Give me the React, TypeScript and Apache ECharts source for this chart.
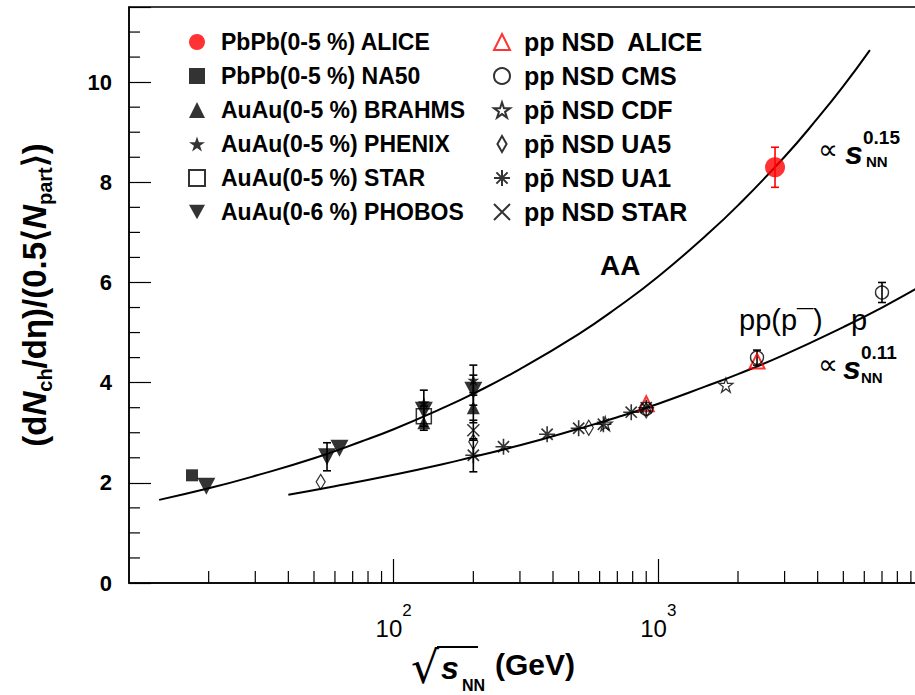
import React, { useEffect, useRef } from 'react';
import * as echarts from 'echarts';

const FONT = '"Liberation Sans", Arial, Helvetica, sans-serif';

// ---- legend / series names ----
const seriesNames = [
  'PbPb(0-5 %) ALICE',
  'PbPb(0-5 %) NA50',
  'AuAu(0-5 %) BRAHMS',
  'AuAu(0-5 %) PHENIX',
  'AuAu(0-5 %) STAR',
  'AuAu(0-6 %) PHOBOS',
  'pp NSD  ALICE',
  'pp NSD CMS',
  'pp\u0304 NSD CDF',
  'pp\u0304 NSD UA5',
  'pp\u0304 NSD UA1',
  'pp NSD STAR',
];

// ---- data: [sqrt(s_NN) GeV, value] ----
const aliceAA = [[2760, 8.3]];
const na50 = [[17.3, 2.15]];
const brahms = [[130, 3.2], [200, 3.5]];
const phenix = [[130, 3.6], [200, 4.05]];
const starAA = [[130, 3.33]];
const phobos = [[19.6, 1.93], [56, 2.52], [62.4, 2.69], [130, 3.45], [200, 3.85]];
const alicePP = [[900, 3.58], [2360, 4.43]];
const cmsPP = [[900, 3.48], [2360, 4.5], [7000, 5.8]];
const cdfPP = [[630, 3.18], [1800, 3.95]];
const ua5PP = [[53, 2.02], [200, 2.82], [546, 3.1], [900, 3.45]];
const ua1PP = [[200, 2.55], [260, 2.72], [380, 2.97], [500, 3.09], [620, 3.17], [790, 3.41], [900, 3.5]];
const starPP = [[200, 3.05]];

// error bars: [x, low, high]
const aliceErr = [[2760, 7.9, 8.7]];
const blackErr = [
  [56, 2.24, 2.8],
  [130, 3.05, 3.85],
  [130, 3.13, 3.53],
  [200, 3.55, 4.15],
  [200, 3.75, 4.35],
  [200, 3.2, 3.8],
  [200, 2.85, 3.25],
  [200, 2.22, 2.88],
  [2360, 4.35, 4.65],
  [7000, 5.6, 6.0],
];

// fitted curves
const aaFitE = [13, 20, 30, 50, 75, 100, 150, 200, 300, 500, 700, 1000, 1500, 2000, 3000, 4000, 5000, 6300];
const aaFitY = [1.66, 1.89, 2.14, 2.49, 2.82, 3.07, 3.47, 3.78, 4.27, 4.97, 5.5, 6.12, 6.92, 7.54, 8.51, 9.28, 9.92, 10.64];
const ppFitE = [40, 60, 100, 150, 200, 300, 500, 700, 1000, 1500, 2000, 3000, 5000, 7000, 10000];
const ppFitY = [1.76, 1.93, 2.16, 2.36, 2.52, 2.75, 3.08, 3.31, 3.58, 3.92, 4.17, 4.56, 5.11, 5.5, 5.95];

// minor tick values
const xMinorTicks = [20, 30, 40, 50, 60, 70, 80, 90, 200, 300, 400, 500, 600, 700, 800, 900, 2000, 3000, 4000, 5000, 6000, 7000, 8000, 9000];
const yMinorTicks = [0.5, 1, 1.5, 2.5, 3, 3.5, 4.5, 5, 5.5, 6.5, 7, 7.5, 8.5, 9, 9.5, 10.5, 11];

const SYM_STAR = 'path://M5,0L6.2,3.6L10,3.6L6.9,5.9L8.1,9.5L5,7.3L1.9,9.5L3.1,5.9L0,3.6L3.8,3.6Z';
const SYM_DOWN = 'path://M0,0L10,0L5,9Z';
const SYM_DIAMOND = 'path://M4,0L8,7L4,14L0,7Z';
const SYM_AST = 'path://M5,0L5,10M0,5L10,5M1.5,1.5L8.5,8.5M8.5,1.5L1.5,8.5';
const SYM_X = 'path://M0,0L10,10M10,0L0,10';

const NONE = 'rgba(0,0,0,0)';

function scatter(name: string, data: number[][], symbol: string, size: any, style: any) {
  return {
    name,
    type: 'scatter',
    data,
    symbol,
    symbolSize: size,
    itemStyle: style,
    z: 4,
    silent: true,
  };
}

function errSeries(data: number[][], color: string) {
  return {
    type: 'custom',
    data,
    z: 3,
    silent: true,
    encode: { x: 0, y: [1, 2] },
    renderItem: (params: any, api: any) => {
      const x = api.value(0);
      const p1 = api.coord([x, api.value(1)]);
      const p2 = api.coord([x, api.value(2)]);
      const c = 4;
      const st = { stroke: color, lineWidth: 1.6 };
      return {
        type: 'group',
        children: [
          { type: 'line', shape: { x1: p1[0], y1: p1[1], x2: p2[0], y2: p2[1] }, style: st },
          { type: 'line', shape: { x1: p1[0] - c, y1: p1[1], x2: p1[0] + c, y2: p1[1] }, style: st },
          { type: 'line', shape: { x1: p2[0] - c, y1: p2[1], x2: p2[0] + c, y2: p2[1] }, style: st },
        ],
      };
    },
  };
}

function txt(text: string, x: number, y: number, font: string) {
  return {
    type: 'text',
    x,
    y,
    silent: true,
    style: { text, font, fill: '#000', align: 'left', verticalAlign: 'middle', textAlign: 'left', textVerticalAlign: 'middle' },
  };
}

export default function App() {
  const ref = useRef<HTMLDivElement>(null);

  useEffect(() => {
    const chart = echarts.init(ref.current!, null, { renderer: 'svg', width: 935, height: 695 });
    const legendText = {
      fontSize: 23,
      fontWeight: 'bold',
      fontFamily: FONT,
      color: '#000',
      lineHeight: 34,
      padding: [0, 0, 0, 11],
    };
    const option: any = {
      animation: false,
      backgroundColor: '#fff',
      grid: {
        left: 129,
        right: 12,
        top: 7,
        bottom: 112,
        show: true,
        borderColor: '#000',
        borderWidth: 1.5,
        backgroundColor: 'transparent',
      },
      legend: [
        {
          orient: 'vertical',
          left: 188,
          top: 25,
          padding: 0,
          itemGap: 0,
          itemWidth: 16,
          itemHeight: 16,
          selectedMode: false,
          data: seriesNames.slice(0, 6),
          textStyle: legendText,
        },
        {
          orient: 'vertical',
          left: 493,
          top: 25,
          padding: 0,
          itemGap: 0,
          itemWidth: 16,
          itemHeight: 16,
          selectedMode: false,
          data: seriesNames.slice(6),
          textStyle: { ...legendText, fontSize: 25, padding: [0, 0, 0, 9] },
        },
      ],
      xAxis: {
        type: 'log',
        logBase: 10,
        min: 10,
        max: 10000,
        splitLine: { show: false },
        axisLine: { lineStyle: { color: '#000', width: 1.5 } },
        axisTick: { inside: true, length: 24, lineStyle: { color: '#000', width: 1.2 } },
        axisLabel: {
          margin: 19,
          showMinLabel: false,
          showMaxLabel: false,
          formatter: (v: number) => `{b|10}{s|${Math.round(Math.log10(v))}}`,
          rich: {
            b: { fontSize: 24, fontFamily: FONT, color: '#000', lineHeight: 38, verticalAlign: 'bottom' },
            s: { fontSize: 17, fontFamily: FONT, color: '#000', lineHeight: 17, verticalAlign: 'top' },
          },
        },
      },
      yAxis: {
        type: 'value',
        min: 0,
        max: 11.5,
        interval: 2,
        splitLine: { show: false },
        axisLine: { lineStyle: { color: '#000', width: 1.5 } },
        axisTick: { inside: true, length: 22, lineStyle: { color: '#000', width: 1.2 } },
        axisLabel: {
          margin: 17,
          fontSize: 22,
          fontWeight: 'bold',
          fontFamily: FONT,
          color: '#000',
          formatter: (v: number) => (v % 2 === 0 ? String(v) : ''),
        },
        name: '{p|(d}{i|N}{sub|ch}{p|/dη)/(0.5⟨}{i|N}{sub|part}{p|⟩)}',
        nameLocation: 'middle',
        nameRotate: 90,
        nameGap: 74,
        nameTextStyle: {
          rich: {
            p: { fontSize: 33, fontWeight: 'bold', fontFamily: FONT, color: '#000', lineHeight: 42 },
            i: { fontSize: 33, fontWeight: 'bold', fontStyle: 'italic', fontFamily: FONT, color: '#000', lineHeight: 42 },
            sub: { fontSize: 20, fontWeight: 'bold', fontFamily: FONT, color: '#000', lineHeight: 20, verticalAlign: 'bottom' },
          },
        },
      },
      graphic: [
        txt('AA', 600, 265, 'bold 28px "Liberation Sans", Arial, sans-serif'),
        txt('pp(p\u00AF)', 739, 320, '29px "Liberation Sans", Arial, sans-serif'),
        txt('p', 851, 320, '29px "Liberation Sans", Arial, sans-serif'),
        txt('\u221D', 818, 149, '28px "DejaVu Sans", sans-serif'),
        txt('s', 845, 153, 'italic bold 32px "Liberation Sans", Arial, sans-serif'),
        txt('0.15', 863, 137, 'bold 19px "Liberation Sans", Arial, sans-serif'),
        txt('NN', 866, 161, 'bold 15px "Liberation Sans", Arial, sans-serif'),
        txt('\u221D', 818, 364, '28px "DejaVu Sans", sans-serif'),
        txt('s', 843, 368, 'italic bold 32px "Liberation Sans", Arial, sans-serif'),
        txt('0.11', 861, 352, 'bold 19px "Liberation Sans", Arial, sans-serif'),
        txt('NN', 861, 377, 'bold 15px "Liberation Sans", Arial, sans-serif'),
        txt('\u221A', 411, 667, '44px "DejaVu Sans", sans-serif'),
        {
          type: 'line',
          silent: true,
          shape: { x1: 437, y1: 647, x2: 478, y2: 647 },
          style: { stroke: '#000', lineWidth: 2 },
        },
        txt('s', 441, 668, 'italic bold 32px "Liberation Sans", Arial, sans-serif'),
        txt('NN', 462, 685, 'bold 16px "Liberation Sans", Arial, sans-serif'),
        txt('(GeV)', 495, 664, 'bold 30px "Liberation Sans", Arial, sans-serif'),
      ],
      series: [
        {
          type: 'line',
          data: aaFitE.map((e, i) => [e, aaFitY[i]]),
          smooth: true,
          showSymbol: false,
          silent: true,
          lineStyle: { color: '#000', width: 2 },
          z: 2,
        },
        {
          type: 'line',
          data: ppFitE.map((e, i) => [e, ppFitY[i]]),
          smooth: true,
          showSymbol: false,
          silent: true,
          lineStyle: { color: '#000', width: 2 },
          z: 2,
        },
        {
          type: 'custom',
          data: xMinorTicks.map((v) => [v, 0]),
          silent: true,
          z: 1,
          renderItem: (params: any, api: any) => {
            const p = api.coord([api.value(0), 0]);
            return { type: 'line', shape: { x1: p[0], y1: p[1], x2: p[0], y2: p[1] - 12 }, style: { stroke: '#000', lineWidth: 1.2 } };
          },
        },
        {
          type: 'custom',
          data: yMinorTicks.map((v) => [10, v]),
          silent: true,
          z: 1,
          renderItem: (params: any, api: any) => {
            const p = api.coord([10, api.value(1)]);
            return { type: 'line', shape: { x1: p[0], y1: p[1], x2: p[0] + 11, y2: p[1] }, style: { stroke: '#000', lineWidth: 1.2 } };
          },
        },
        errSeries(aliceErr, '#ff0000'),
        errSeries(blackErr, '#000'),
        scatter(seriesNames[0], aliceAA, 'circle', 20, { color: '#ff0000' }),
        scatter(seriesNames[1], na50, 'rect', 12, { color: '#000' }),
        scatter(seriesNames[2], brahms, 'triangle', 13, { color: '#000' }),
        scatter(seriesNames[3], phenix, SYM_STAR, 12, { color: '#000' }),
        scatter(seriesNames[4], starAA, 'rect', 15, { color: NONE, borderColor: '#000', borderWidth: 1.5 }),
        scatter(seriesNames[5], phobos, SYM_DOWN, [18, 17], { color: '#000' }),
        scatter(seriesNames[6], alicePP, 'triangle', 15, { color: NONE, borderColor: '#ff0000', borderWidth: 2 }),
        scatter(seriesNames[7], cmsPP, 'circle', 13, { color: NONE, borderColor: '#000', borderWidth: 1.4 }),
        scatter(seriesNames[8], cdfPP, SYM_STAR, 14, { color: NONE, borderColor: '#000', borderWidth: 1.3 }),
        scatter(seriesNames[9], ua5PP, SYM_DIAMOND, [9, 15], { color: NONE, borderColor: '#000', borderWidth: 1.3 }),
        scatter(seriesNames[10], ua1PP, SYM_AST, 16, { color: NONE, borderColor: '#000', borderWidth: 1.6 }),
        scatter(seriesNames[11], starPP, SYM_X, 12, { color: NONE, borderColor: '#000', borderWidth: 1.5 }),
      ],
    };
    chart.setOption(option);
    return () => chart.dispose();
  }, []);

  return <div ref={ref} style={{ position: 'fixed', left: 0, top: 0, width: 935, height: 695 }} />;
}
